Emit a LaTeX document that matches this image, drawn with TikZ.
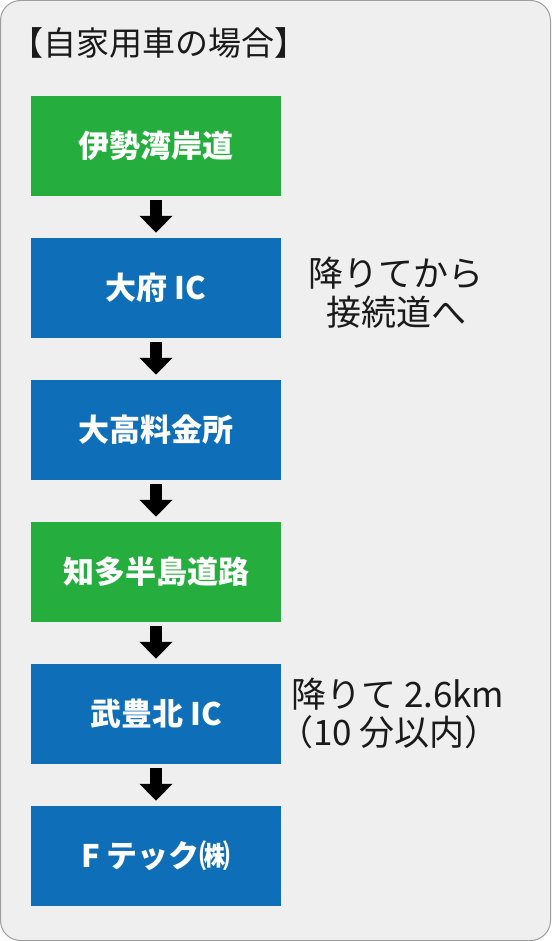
\documentclass[tikz,border=0pt]{standalone}
\usepackage{fontspec}
\newfontfamily\jpfont{Noto Sans CJK JP}
\usetikzlibrary{arrows.meta}
\definecolor{bggray}{HTML}{EFEFEF}
\definecolor{bordergray}{HTML}{9E9E9E}
\definecolor{boxgreen}{HTML}{25AE3E}
\definecolor{boxblue}{HTML}{0F6EB8}
\definecolor{textdark}{HTML}{1A1A1A}
\tikzset{
  stepbox/.style={minimum width=250pt, minimum height=100pt, inner sep=0pt, text=white,
    font=\jpfont\fontsize{31}{36}\selectfont\bfseries},
  greenbox/.style={stepbox, fill=boxgreen},
  bluebox/.style={stepbox, fill=boxblue},
  flowarrow/.style={line width=12pt, -{Triangle[width=32pt,length=17pt]}, shorten <=4pt, shorten >=5pt},
  sidetext/.style={anchor=west, inner sep=0pt, text=textdark, font=\jpfont\fontsize{35}{40}\selectfont}
}
\begin{document}
\begin{tikzpicture}[x=1pt,y=-1pt]
\useasboundingbox (0,0) rectangle (551,941);
\draw[fill=bggray, draw=bordergray, line width=1pt, rounded corners=20pt] (0.5,0.5) rectangle (550.5,940.5);
\node[anchor=west, inner sep=0pt, text=textdark, font=\jpfont\fontsize{33}{38}\selectfont] (title) at (10,43) {【自家用車の場合】};
\node[greenbox] (b1) at (156,146) {伊勢湾岸道};
\node[bluebox]  (b2) at (156,288) {大府 IC};
\node[bluebox]  (b3) at (156,430) {大高料金所};
\node[greenbox] (b4) at (156,572) {知多半島道路};
\node[bluebox]  (b5) at (156,714) {武豊北 IC};
\node[bluebox]  (b6) at (156,856) {F テック㈱};
\foreach \a/\b in {b1/b2,b2/b3,b3/b4,b4/b5,b5/b6}
  \draw[flowarrow] (\a.south) -- (\b.north);
\node[sidetext] (s1) at (308,273) {降りてから};
\node[sidetext] (s2) at (326,312) {接続道へ};
\node[sidetext] (s3) at (291,694) {降りて 2.6km};
\node[sidetext] (s4) at (278,732) {（10 分以内）};
\end{tikzpicture}
\end{document}
